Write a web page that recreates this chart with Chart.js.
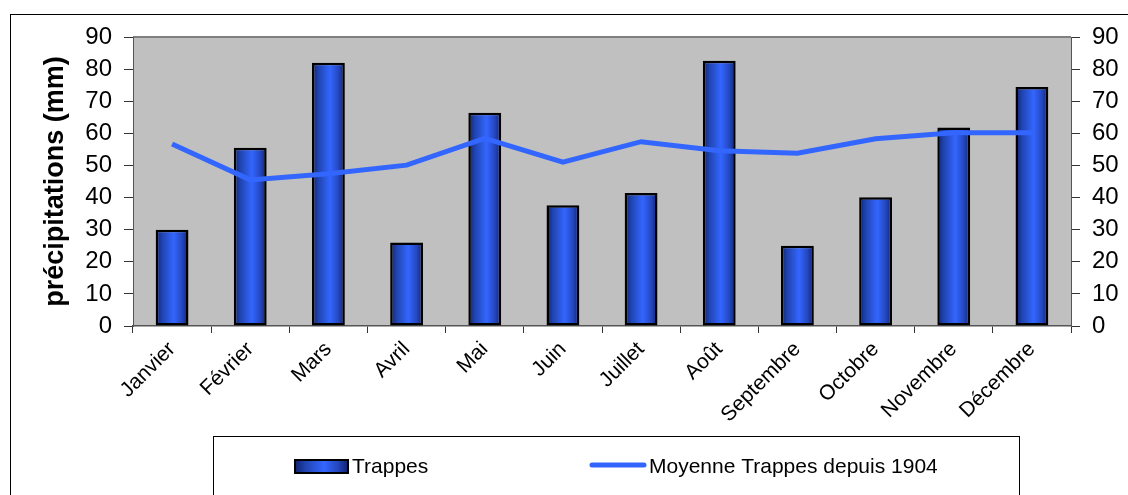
<!DOCTYPE html>
<html lang="fr">
<head>
<meta charset="utf-8">
<title>Précipitations à Trappes</title>
<script src="https://cdn.jsdelivr.net/npm/chart.js@4.4.1/dist/chart.umd.min.js"></script>
<style>
  html, body { margin: 0; padding: 0; background: #fff; }
  #wrap { width: 1128px; height: 495px; }
</style>
</head>
<body>
<div id="wrap"><canvas id="pluieChart" width="1128" height="495"></canvas></div>
<script>
/*------------------------------Données------------------------------------*/
const mois = ["Janvier", "Février", "Mars", "Avril", "Mai", "Juin", "Juillet", "Août", "Septembre", "Octobre", "Novembre", "Décembre"];
const trappes = [30, 55.5, 82, 26, 66.4, 37.6, 41.4, 82.6, 25, 40.1, 61.8, 74.4];
const moyenne = [56.7, 45.5, 47.4, 50.1, 58.4, 51, 57.4, 54.6, 53.8, 58.3, 60.2, 60.2];
const graduations = [0, 10, 20, 30, 40, 50, 60, 70, 80, 90];

const LARGEUR_BARRE = 0.42;
const BLEU = '#3366ff';

Chart.defaults.font.family = "'Liberation Sans', Arial, sans-serif";
Chart.defaults.color = '#000';

// dégradé horizontal des barres : bords sombres, reflet clair un peu à droite du centre
function degradeBarre(ctx, x0, x1) {
  const g = ctx.createLinearGradient(x0, 0, x1, 0);
  g.addColorStop(0, '#0f2372');
  g.addColorStop(0.2, '#2044b0');
  g.addColorStop(0.55, '#3366ff');
  g.addColorStop(0.8, '#2548c0');
  g.addColorStop(1, '#0f2372');
  return g;
}

// fond gris de la zone de tracé, cadre extérieur et légende encadrée
const cadre = {
  id: 'cadre',
  beforeDraw(chart) {
    const {ctx, chartArea: a} = chart;
    ctx.save();
    ctx.fillStyle = '#fff';
    ctx.fillRect(0, 0, chart.width, chart.height);
    ctx.strokeStyle = '#000';
    ctx.lineWidth = 1;
    ctx.strokeRect(10.5, 14.5, chart.width + 20, chart.height + 20);
    ctx.fillStyle = '#c0c0c0';
    ctx.fillRect(a.left, a.top, a.right - a.left, a.bottom - a.top);
    ctx.strokeStyle = '#808080';
    ctx.lineWidth = 2;
    ctx.beginPath();
    ctx.moveTo(a.left, a.top);
    ctx.lineTo(a.right, a.top);
    ctx.stroke();
    ctx.restore();
  },
  afterDraw(chart) {
    const ctx = chart.ctx;
    const [barres, ligne] = chart.data.datasets;
    ctx.save();
    ctx.strokeStyle = '#000';
    ctx.lineWidth = 1;
    ctx.strokeRect(213.5, 436.5, 806, 120);

    ctx.font = "21px 'Liberation Sans', Arial, sans-serif";
    ctx.textBaseline = 'middle';

    // barres
    ctx.fillStyle = degradeBarre(ctx, 295, 348);
    ctx.fillRect(295, 460, 53, 13);
    ctx.lineWidth = 2;
    ctx.strokeRect(295, 460, 53, 13);
    ctx.fillStyle = '#000';
    ctx.fillText(barres.label, 352, 467);

    // courbe
    ctx.strokeStyle = ligne.borderColor;
    ctx.lineWidth = 5;
    ctx.lineCap = 'round';
    ctx.beginPath();
    ctx.moveTo(592, 465);
    ctx.lineTo(644, 465);
    ctx.stroke();
    ctx.fillText(ligne.label, 649, 467);
    ctx.restore();
  }
};

const axeY = (position, largeur) => ({
  position: position,
  min: 0,
  max: 90,
  afterBuildTicks(s) { s.ticks = graduations.map(v => ({ value: v })); },
  grid: { drawOnChartArea: false, tickLength: 9, tickColor: '#333' },
  border: { color: '#555', width: 1 },
  ticks: { autoSkip: false, padding: 12, color: '#000', font: { size: 24 } },
  afterFit(s) { s.width = largeur; }
});

const ctx = document.getElementById('pluieChart').getContext('2d');
const pluieChart = new Chart(ctx, {
  type: 'bar',
  data: {
    labels: mois,
    datasets: [
      {
        type: 'bar',
        label: 'Trappes',
        data: trappes,
        yAxisID: 'y',
        order: 2,
        categoryPercentage: 1,
        barPercentage: LARGEUR_BARRE,
        borderColor: '#000',
        borderWidth: 2.5,
        borderSkipped: false,
        backgroundColor(c) {
          const {chart, dataIndex} = c;
          const a = chart.chartArea;
          if (!a || dataIndex === undefined) return BLEU;
          const x = chart.scales.x.getPixelForValue(dataIndex);
          const demi = (a.right - a.left) / mois.length * LARGEUR_BARRE / 2;
          return degradeBarre(chart.ctx, x - demi, x + demi);
        }
      },
      {
        type: 'line',
        label: 'Moyenne Trappes depuis 1904',
        data: moyenne,
        yAxisID: 'y2',
        order: 1,
        borderColor: BLEU,
        backgroundColor: BLEU,
        borderWidth: 5,
        tension: 0,
        pointRadius: 0,
        fill: false
      }
    ]
  },
  options: {
    responsive: false,
    animation: false,
    devicePixelRatio: 1,
    layout: { padding: { top: 37, left: 0, right: 0, bottom: 0 } },
    plugins: {
      legend: { display: false },
      tooltip: { enabled: false }
    },
    scales: {
      x: {
        offset: true,
        grid: { offset: true, drawOnChartArea: false, tickLength: 7, tickColor: '#333' },
        border: { color: '#555', width: 1.5 },
        ticks: { autoSkip: false, minRotation: 45, maxRotation: 45, padding: 4, color: '#000', font: { size: 21 } },
        afterFit(s) { s.height = 169; }
      },
      y: Object.assign(axeY('left', 133), {
        title: {
          display: true,
          text: 'précipitations (mm)',
          color: '#000',
          font: { size: 27, weight: 'bold' },
          padding: { top: 39, bottom: 0 }
        }
      }),
      y2: axeY('right', 57)
    }
  },
  plugins: [cadre]
});
</script>
</body>
</html>
